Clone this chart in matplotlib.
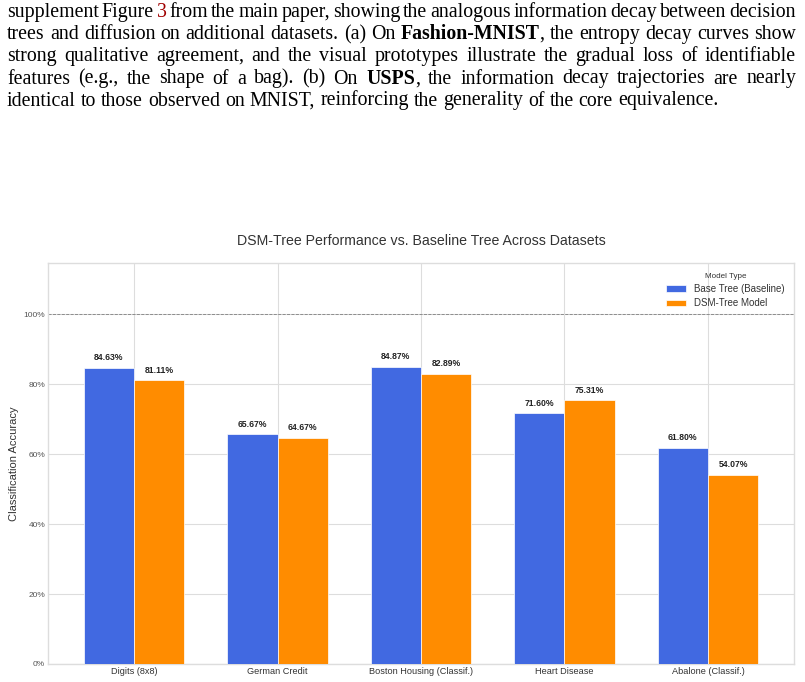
import matplotlib
matplotlib.use("Agg")
import matplotlib.pyplot as plt
import numpy as np
from matplotlib.ticker import PercentFormatter

datasets = ["Digits (8x8)", "German Credit", "Boston Housing (Classif.)",
            "Heart Disease", "Abalone (Classif.)"]
base_acc = [84.63, 65.67, 84.87, 71.60, 61.80]
dsm_acc = [81.11, 64.67, 82.89, 75.31, 54.07]
series_names = ["Base Tree (Baseline)", "DSM-Tree Model"]
yticks = [0, 20, 40, 60, 80, 100]

# caption lines: *bold*, |red| markup
RED = "#a00000"
caption = [
    "supplement Figure |3| from the main paper, showing the analogous information decay between decision",
    "trees and diffusion on additional datasets. (a) On *Fashion-MNIST*, the entropy decay curves show",
    "strong qualitative agreement, and the visual prototypes illustrate the gradual loss of identifiable",
    "features (e.g., the shape of a bag).  (b) On *USPS*, the information decay trajectories are nearly",
    "identical to those observed on MNIST, reinforcing the generality of the core equivalence.",
]

W, H = 805, 682
fig = plt.figure(figsize=(W / 100, H / 100), dpi=100)
renderer = fig.canvas.get_renderer()
SERIF = "Liberation Serif"
SANS = "Liberation Sans"


def pieces(word):
    out = []
    buf = ""
    mode = None
    for ch in word:
        if ch in "*|":
            if buf:
                out.append((buf, mode))
            buf = ""
            mode = None if mode == ch else ch
        else:
            buf += ch
    if buf:
        out.append((buf, mode))
    return out


def width(s, size, bold=False):
    t = fig.text(0, 0, s, fontsize=size, family=SERIF,
                 fontweight="bold" if bold else "normal")
    w = t.get_window_extent(renderer).width
    t.remove()
    return w


def draw_line(line, y_px, size, justify):
    words = [pieces(w) for w in line.split()]
    wws = [sum(width(p, size, m == "*") for p, m in wd) for wd in words]
    space = width("a a", size) - width("aa", size)
    x0, x1 = 7, 796
    if justify:
        gap = (x1 - x0 - sum(wws)) / (len(words) - 1)
    else:
        gap = space
    x = x0
    for wd, ww in zip(words, wws):
        xx = x
        for p, m in wd:
            fig.text(xx / W, 1 - y_px / H, p, fontsize=size, family=SERIF,
                     fontweight="bold" if m == "*" else "normal",
                     color=RED if m == "|" else "black", va="baseline")
            xx += width(p, size, m == "*")
        x += ww + gap


# size chosen so the last (unjustified) line is ~708 px wide
size = 13 * 708 / width(caption[-1], 13)
baselines = [17, 39, 61, 83.5, 105.5]
for i, (line, yb) in enumerate(zip(caption, baselines)):
    draw_line(line, yb, size, i < len(caption) - 1)

# chart
ax = fig.add_axes([48 / W, 1 - 664 / H, (794 - 48) / W, (664 - 263) / H])
x = np.arange(len(datasets))
bw = 0.35
b1 = ax.bar(x - bw / 2, base_acc, bw, color="#4169E1", edgecolor="white",
            linewidth=0.5, label=series_names[0], zorder=3)
b2 = ax.bar(x + bw / 2, dsm_acc, bw, color="#FF8C00", edgecolor="white",
            linewidth=0.5, label=series_names[1], zorder=3)
for bars in (b1, b2):
    for r in bars:
        ax.annotate(f"{r.get_height():.2f}%",
                    (r.get_x() + r.get_width() / 2, r.get_height()),
                    xytext=(0, 4), textcoords="offset points",
                    ha="center", va="bottom", fontsize=6.2,
                    fontweight="bold", color="#222222", family=SANS)

ax.axhline(100, color="gray", linestyle="--", linewidth=0.6, zorder=2)
ax.set_xlim(-0.6, 4.6)
ax.set_ylim(0, 114.6)
ax.set_xticks(x)
ax.set_xticklabels(datasets, fontsize=6.6, color="#333333", family=SANS)
ax.set_yticks(yticks)
ax.yaxis.set_major_formatter(PercentFormatter(decimals=0))
for lab in ax.get_yticklabels():
    lab.set_fontsize(6)
    lab.set_color("#555555")
    lab.set_family(SANS)
ax.tick_params(length=0, pad=2)
ax.grid(True, color="#dddddd", linewidth=0.8, zorder=0)
for s in ax.spines.values():
    s.set_color("#dddddd")
    s.set_linewidth(1.0)
ax.set_ylabel("Classification Accuracy", fontsize=8, color="#333333",
              family=SANS, labelpad=3)
ax.set_title("DSM-Tree Performance vs. Baseline Tree Across Datasets",
             fontsize=10.2, color="#333333", family=SANS, pad=13)
leg = ax.legend(title="Model Type", loc="upper right",
                frameon=False, handlelength=2.0, handleheight=0.7,
                borderaxespad=0.6, labelspacing=0.45, handletextpad=0.8,
                prop={"family": SANS, "size": 7},
                title_fontproperties={"family": SANS, "size": 5.8})
for t in leg.get_texts():
    t.set_color("#333333")
leg.get_title().set_color("#333333")

fig.savefig("out.png", dpi=100)
